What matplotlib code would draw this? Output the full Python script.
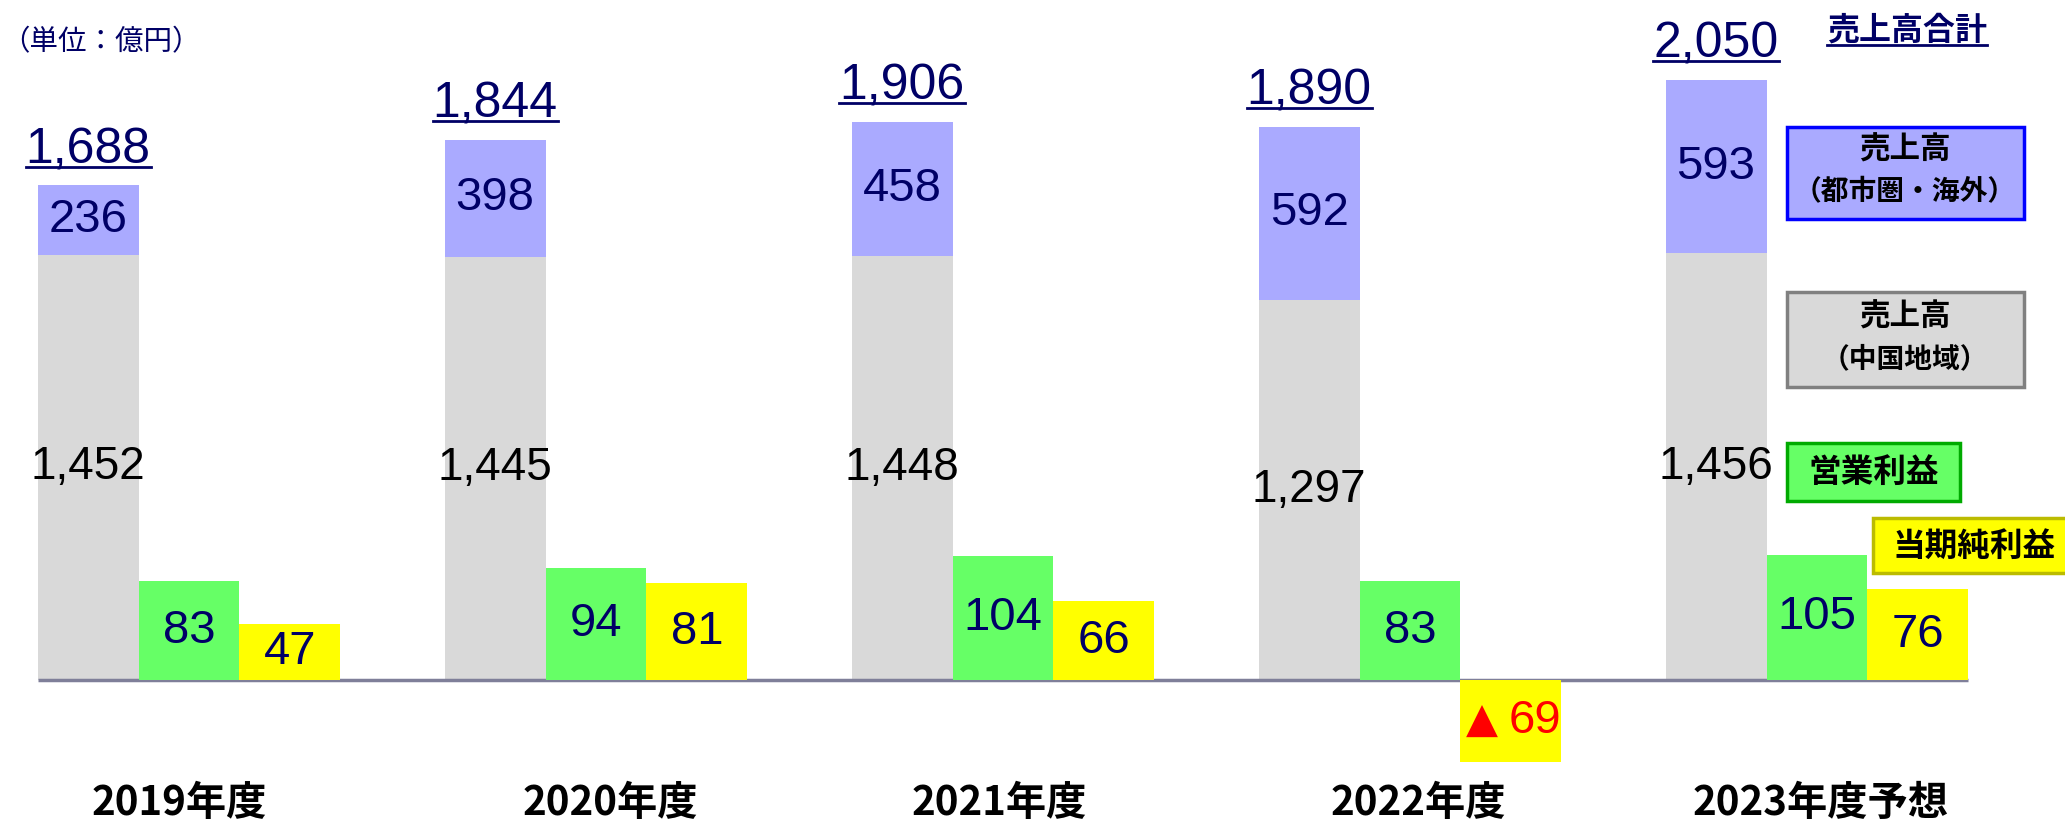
import matplotlib
matplotlib.use('Agg')
import matplotlib.pyplot as plt
from matplotlib import font_manager
from matplotlib.patches import Rectangle
from matplotlib.lines import Line2D

years = ['2019年度', '2020年度', '2021年度', '2022年度', '2023年度予想']
sales_chugoku = [1452, 1445, 1448, 1297, 1456]
sales_urban = [236, 398, 458, 592, 593]
sales_total = [1688, 1844, 1906, 1890, 2050]
op_profit = [83, 94, 104, 83, 105]
net_profit = [47, 81, 66, -69, 76]

names = {f.name for f in font_manager.fontManager.ttflist}
narrow = 'Liberation Sans Narrow' if 'Liberation Sans Narrow' in names else 'Liberation Sans'
num_size = 40 if narrow == 'Liberation Sans Narrow' else 34
tot_size = 42 if narrow == 'Liberation Sans Narrow' else 36
jp = 'Noto Sans CJK JP'

navy = '#000066'
c_grey = '#D9D9D9'
c_lav = '#AAAAFF'
c_green = '#66FF66'
c_yellow = '#FFFF00'

W, H = 2065, 821
fig = plt.figure(figsize=(W / 100, H / 100), dpi=100)
ax = fig.add_axes([0, 0, 1, 1])
ax.axis('off')

# sales axis (left scale), profits drawn on a magnified scale
px_per = 0.293
ax.set_xlim(-189 / 407, (W - 189) / 407)
ax.set_ylim(-141 / px_per, 680 / px_per)
k = 4.07
ax2 = ax.twinx()
ax2.set_position([0, 0, 1, 1])
ax2.axis('off')
y0, y1 = ax.get_ylim()
ax2.set_ylim(y0 / k, y1 / k)

w = 0.248
x = list(range(len(years)))
xg = [i - w for i in x]
xy = [i + w for i in x]

ax.bar(xg, sales_chugoku, width=w, color=c_grey, zorder=2)
ax.bar(xg, sales_urban, width=w, bottom=sales_chugoku, color=c_lav, zorder=2)
ax2.bar(x, op_profit, width=w, color=c_green, zorder=2)
ax2.bar(xy, net_profit, width=w, color=c_yellow, zorder=2)

ax.hlines(0, xg[0] - w / 2, xy[-1] + w / 2, color='#7F7F99', lw=2.5, zorder=3)

label_shift = [-0.025, 0.035, -0.008, 0.02, 0.01]

totals = []
for i in x:
    ax.text(xg[i], sales_chugoku[i] / 2, f'{sales_chugoku[i]:,}', ha='center', va='center',
            fontsize=33, family='Liberation Sans', color='black', zorder=4)
    ax.text(xg[i], sales_chugoku[i] + sales_urban[i] / 2, f'{sales_urban[i]}', ha='center',
            va='center', fontsize=num_size, family=narrow, color=navy, zorder=4)
    t = ax.annotate(f'{sales_total[i]:,}', (xg[i], sales_total[i]), xytext=(0, 16),
                    textcoords='offset points', ha='center', va='baseline',
                    fontsize=tot_size, family=narrow, color=navy)
    totals.append(t)
    ax2.text(x[i], op_profit[i] / 2, f'{op_profit[i]}', ha='center', va='center',
             fontsize=num_size, family=narrow, color=navy, zorder=4)
    v = net_profit[i]
    if v < 0:
        ax2.annotate('▲', (xy[i], v / 2), xytext=(-21, 0), textcoords='offset points',
                     ha='center', va='center', fontsize=30, family='DejaVu Sans',
                     color='red', zorder=4)
        ax2.annotate(f'{-v}', (xy[i], v / 2), xytext=(17, 0), textcoords='offset points',
                     ha='center', va='center', fontsize=num_size, family=narrow,
                     color='red', zorder=4)
    else:
        ax2.text(xy[i], v / 2, f'{v}', ha='center', va='center', fontsize=num_size,
                 family=narrow, color=navy, zorder=4)
    ax.text(x[i] + label_shift[i], -420, years[i], ha='center', va='center', fontsize=29,
            family=jp, weight='bold', color='black')

fig.text(1 / W, 1 - 42 / H, '（単位：億円）', ha='left', va='center', fontsize=20.5,
         family=jp, color=navy)

legend_total = fig.text(1907 / W, 1 - 31 / H, '売上高合計', ha='center', va='center',
                        fontsize=23, family=jp, weight='bold', color=navy)

# legend boxes (figure pixel coords: x0, y0_top, x1, y1_bottom, text centre x)
boxes = [
    ((1787, 127, 2024, 219, 1905), c_lav, '#0000FF',
     [('売上高', 150, 22), ('（都市圏・海外）', 192, 20)]),
    ((1787, 292, 2024, 387, 1905), c_grey, '#808080',
     [('売上高', 317, 22), ('（中国地域）', 359, 20)]),
    ((1787, 443, 1960, 501, 1874), c_green, '#00AA00', [('営業利益', 472, 23.5)]),
    ((1873, 518, 2080, 573, 1974), c_yellow, '#BBBB00', [('当期純利益', 546, 23.5)]),
]
for (bx0, by0, bx1, by1, cx), fc, ec, lines in boxes:
    fig.patches.append(Rectangle((bx0 / W, 1 - by1 / H), (bx1 - bx0) / W, (by1 - by0) / H,
                                 transform=fig.transFigure, facecolor=fc, edgecolor=ec,
                                 lw=2.5, zorder=5))
    for s, yy, fs in lines:
        fig.text(cx / W, 1 - yy / H, s, ha='center', va='center', fontsize=fs,
                 family=jp, weight='bold', color='black', zorder=6)

# underlines for totals and legend heading
fig.canvas.draw()
r = fig.canvas.get_renderer()
for t in totals + [legend_total]:
    bb = t.get_window_extent(r)
    yl = bb.y0 + (2 if t is legend_total else 6)
    fig.add_artist(Line2D([bb.x0 / W, bb.x1 / W], [yl / H, yl / H], transform=fig.transFigure,
                          color=navy, lw=2))

fig.savefig('out.png', dpi=100)
